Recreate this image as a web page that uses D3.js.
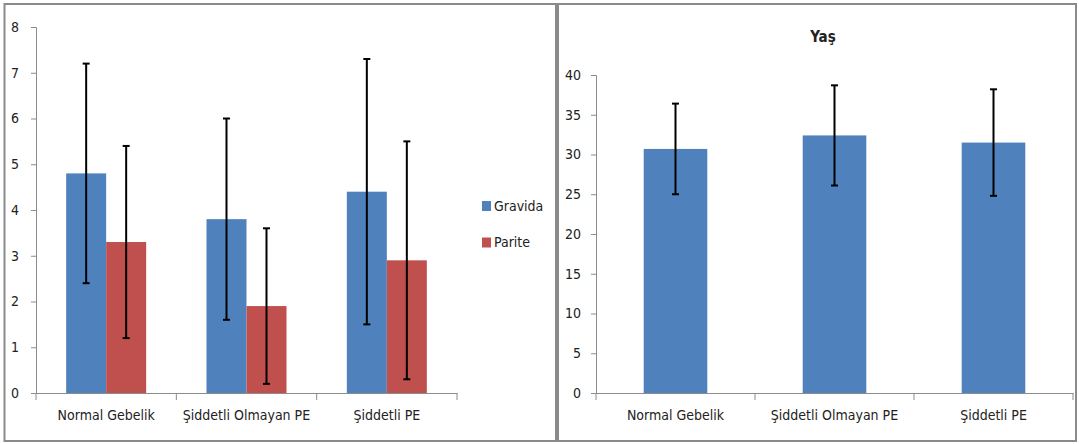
<!DOCTYPE html>
<html><head><meta charset="utf-8">
<script src="https://cdn.jsdelivr.net/npm/d3@7"></script>
<style>
html,body{margin:0;padding:0;background:#fff;}
text{font-family:"Liberation Sans Narrow","DejaVu Sans Condensed",sans-serif;fill:#222;}
</style></head>
<body>
<svg id="c" width="1079" height="444"></svg>
<script>
const categories = ["Normal Gebelik", "Şiddetli Olmayan PE", "Şiddetli PE"];
const seriesNames = ["Gravida", "Parite"];
const gravidaMean = [4.8, 3.8, 4.4];
const gravidaSD = [2.4, 2.2, 2.9];
const pariteMean = [3.3, 1.9, 2.9];
const pariteSD = [2.1, 1.7, 2.6];
const leftTicks = [0, 1, 2, 3, 4, 5, 6, 7, 8];
const yasMean = [30.7, 32.4, 31.5];
const yasSD = [5.7, 6.3, 6.7];
const rightTicks = [0, 5, 10, 15, 20, 25, 30, 35, 40];
const rightTitle = "Yaş";
const colors = ["#4F81BD", "#C0504D"];

const svg = d3.select("#c");
const axisColor = "#8c8c8c";
const fontFam = '"Liberation Sans Narrow","DejaVu Sans Condensed",sans-serif';

// panel borders
svg.append("rect").attr("x", 4.5).attr("y", 4).attr("width", 551.5).attr("height", 437)
  .attr("fill", "none").attr("stroke", "#8a8a8a").attr("stroke-width", 2);
svg.append("rect").attr("x", 558).attr("y", 4).attr("width", 518).attr("height", 437)
  .attr("fill", "none").attr("stroke", "#8a8a8a").attr("stroke-width", 2);

function styleAxis(g){
  g.select(".domain").attr("stroke", axisColor);
  g.selectAll(".tick line").attr("stroke", axisColor);
  g.selectAll(".tick text").style("font-family", fontFam)
    .attr("fill", "#222").style("font-size", "14px");
}

function errBars(g, xs, means, sds, y, cap){
  const data = means.map((m, i) => ({x: xs[i], lo: m - sds[i], hi: m + sds[i]}));
  const e = g.append("g").selectAll("g").data(data).join("g");
  e.append("line").attr("x1", d => d.x).attr("x2", d => d.x)
    .attr("y1", d => y(d.hi)).attr("y2", d => y(d.lo)).attr("stroke", "#000").attr("stroke-width", 2);
  e.append("line").attr("x1", d => d.x - cap).attr("x2", d => d.x + cap)
    .attr("y1", d => y(d.hi)).attr("y2", d => y(d.hi)).attr("stroke", "#000").attr("stroke-width", 2);
  e.append("line").attr("x1", d => d.x - cap).attr("x2", d => d.x + cap)
    .attr("y1", d => y(d.lo)).attr("y2", d => y(d.lo)).attr("stroke", "#000").attr("stroke-width", 2);
}

// ---------- Left panel ----------
{
  const x0 = d3.scaleBand().domain(categories).range([36, 457]).paddingInner(0).paddingOuter(0);
  const y = d3.scaleLinear().domain([0, 8]).range([393, 27]);
  const x1 = d3.scaleBand().domain(seriesNames).range([0, 80]);
  const g = svg.append("g");
  const groupOffset = (x0.bandwidth() - 80) / 2;

  const ax = g.append("g").attr("transform", "translate(0,393)")
    .call(d3.axisBottom(x0).tickSize(0).tickPadding(20));
  styleAxis(ax);
  ax.selectAll(".tick text").attr("dy", "0.5em");
  g.append("g").selectAll("line").data(d3.range(categories.length + 1)).join("line")
    .attr("x1", i => 36 + i * x0.step()).attr("x2", i => 36 + i * x0.step())
    .attr("y1", 393).attr("y2", 400).attr("stroke", axisColor);

  const ay = g.append("g").attr("transform", "translate(36,0)")
    .call(d3.axisLeft(y).tickValues(leftTicks).tickSize(5).tickPadding(12).tickFormat(d3.format("d")));
  styleAxis(ay);

  const series = [gravidaMean, pariteMean];
  const sds = [gravidaSD, pariteSD];
  series.forEach((vals, si) => {
    g.append("g").selectAll("rect").data(vals).join("rect")
      .attr("x", (d, i) => x0(categories[i]) + groupOffset + x1(seriesNames[si]))
      .attr("y", d => y(d)).attr("width", x1.bandwidth()).attr("height", d => y(0) - y(d))
      .attr("fill", colors[si]);
  });
  ax.raise();
  series.forEach((vals, si) => {
    const xs = vals.map((d, i) => x0(categories[i]) + groupOffset + x1(seriesNames[si]) + x1.bandwidth() / 2);
    errBars(g, xs, vals, sds[si], y, 3.5);
  });

  // legend
  const lg = g.append("g").selectAll("g").data(seriesNames).join("g")
    .attr("transform", (d, i) => `translate(482,${201 + i * 36.5})`);
  lg.append("rect").attr("width", 9).attr("height", 10).attr("fill", (d, i) => colors[i]);
  lg.append("text").attr("x", 12).attr("y", 5).attr("dy", "0.35em").style("font-size", "14px").text(d => d);
}

// ---------- Right panel ----------
{
  const x = d3.scaleBand().domain(categories).range([596, 1073]).paddingInner(0.6).paddingOuter(0.3);
  const y = d3.scaleLinear().domain([0, 40]).range([393, 75]);
  const g = svg.append("g");
  const step = (1073 - 596) / categories.length;

  const ax = g.append("g").attr("transform", "translate(0,393)")
    .call(d3.axisBottom(x).tickSize(0).tickPadding(20));
  styleAxis(ax);
  ax.selectAll(".tick text").attr("dy", "0.5em");
  g.append("g").selectAll("line").data(d3.range(categories.length + 1)).join("line")
    .attr("x1", i => 596 + i * step).attr("x2", i => 596 + i * step)
    .attr("y1", 393).attr("y2", 400).attr("stroke", axisColor);

  const ay = g.append("g").attr("transform", "translate(596,0)")
    .call(d3.axisLeft(y).tickValues(rightTicks).tickSize(5).tickPadding(10).tickFormat(d3.format("d")));
  styleAxis(ay);

  g.append("g").selectAll("rect").data(yasMean).join("rect")
    .attr("x", (d, i) => x(categories[i])).attr("y", d => y(d))
    .attr("width", x.bandwidth()).attr("height", d => y(0) - y(d)).attr("fill", colors[0]);
  ax.raise();
  const xs = yasMean.map((d, i) => x(categories[i]) + x.bandwidth() / 2);
  errBars(g, xs, yasMean, yasSD, y, 3.5);

  g.append("text").attr("x", 823).attr("y", 37).attr("text-anchor", "middle").attr("dy", "0.35em")
    .style("font-size", "15px").style("font-weight", "bold").text(rightTitle);
}
</script>
</body></html>
